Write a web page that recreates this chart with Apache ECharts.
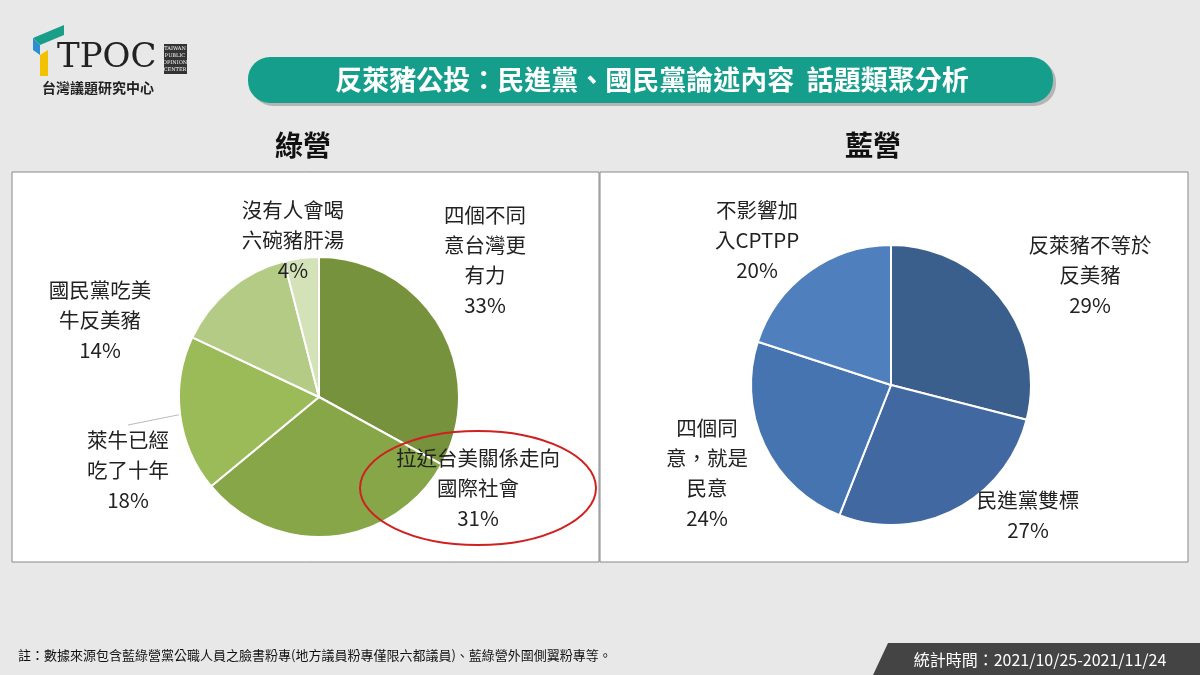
<!DOCTYPE html>
<html><head><meta charset="utf-8">
<script src="https://cdn.jsdelivr.net/npm/echarts@6/dist/echarts.min.js"></script>
<style>html,body{margin:0;background:#e8e8e8}#c{width:1200px;height:675px}</style>
</head><body><div id="c"></div>
<script>
const greenNames=['四個不同\n意台灣更\n有力','拉近台美關係走向\n國際社會','萊牛已經\n吃了十年','國民黨吃美\n牛反美豬','沒有人會喝\n六碗豬肝湯'];
const greenValues=[33,31,18,14,4];
const greenColors=['#77923c','#87a648','#9bbb59','#b4cb86','#d4e2b8'];
const blueNames=['反萊豬不等於\n反美豬','民進黨雙標','四個同\n意，就是\n民意','不影響加\n入CPTPP'];
const blueValues=[29,27,24,20];
const blueColors=['#3b5f8c','#4168a0','#4674b0','#4f80bd'];
// label anchor positions (layout only)
const greenLabelPos=[[485,260],[478,488],[128,470],[100,320],[293,240]];
const blueLabelPos=[[1090,275],[1028,515],[707,473],[757,240]];
const font='"Noto Sans CJK TC"';
const chart=echarts.init(document.getElementById('c'));
function mk(names,vals,cols,lineIdx){return names.map((n,i)=>({name:n,value:vals[i],itemStyle:{color:cols[i]},labelLine:{show:lineIdx.indexOf(i)>=0}}));}
const lbl={show:true,formatter:'{b}\n{c}%',color:'#222',fontSize:20.5,lineHeight:30,fontFamily:font,align:'center',position:'outside'};
function lay(pos){return p=>({x:pos[p.dataIndex][0],y:pos[p.dataIndex][1],align:'center',verticalAlign:'middle'});}
chart.setOption({
backgroundColor:'#e8e8e8',
graphic:[
 {type:'rect',shape:{x:12,y:172,width:587,height:390},style:{fill:'#fff',stroke:'#888',lineWidth:1},z:-10},
 {type:'rect',shape:{x:600,y:172,width:588,height:390},style:{fill:'#fff',stroke:'#888',lineWidth:1},z:-10},
 {type:'rect',shape:{x:251,y:60,width:805,height:46,r:22},style:{fill:'#b5b5b5'},z:-5},
 {type:'rect',shape:{x:248,y:57,width:805,height:46,r:22},style:{fill:'#169e8c'},z:-4},
 {type:'text',x:652,y:80,style:{text:'反萊豬公投：民進黨、國民黨論述內容  話題類聚分析',fill:'#fff',font:'bold 27px '+font,align:'center',verticalAlign:'middle'}},
 {type:'text',x:303,y:145,style:{text:'綠營',fill:'#111',font:'bold 28px '+font,align:'center',verticalAlign:'middle'}},
 {type:'text',x:873,y:145,style:{text:'藍營',fill:'#111',font:'bold 28px '+font,align:'center',verticalAlign:'middle'}},
 {type:'polygon',shape:{points:[[33,38],[64,25],[64,35],[40,45]]},style:{fill:'#1a9e8a'}},
 {type:'polygon',shape:{points:[[33,38],[40,45],[40,55],[33,50]]},style:{fill:'#2b8fd0'}},
 {type:'polygon',shape:{points:[[40,55],[48,50],[48,76],[40,76]]},style:{fill:'#f2c200'}},
 {type:'text',x:57,y:58,style:{text:'TPOC',fill:'#222',font:'34px "DejaVu Serif"',verticalAlign:'middle'}},
 {type:'rect',shape:{x:164,y:44,width:23,height:30},style:{fill:'#333'}},
 {type:'text',x:175,y:59,style:{text:'TAIWAN\nPUBLIC\nOPINION\nCENTER',fill:'#fff',font:'5px "DejaVu Serif"',align:'center',verticalAlign:'middle',lineHeight:7}},
 {type:'text',x:42,y:88,style:{text:'台灣議題研究中心',fill:'#222',font:'bold 14px '+font,verticalAlign:'middle'}},
 {type:'ellipse',shape:{cx:478,cy:488,rx:118,ry:57},style:{fill:'none',stroke:'#d02020',lineWidth:2},z:20},
 {type:'text',x:18,y:655,style:{text:'註：數據來源包含藍綠營黨公職人員之臉書粉專(地方議員粉專僅限六都議員)、藍綠營外圍側翼粉專等。',fill:'#111',font:'13px '+font,verticalAlign:'middle'}},
 {type:'polygon',shape:{points:[[888,643],[1200,643],[1200,675],[873,675]]},style:{fill:'#444'}},
 {type:'text',x:1040,y:660,style:{text:'統計時間：2021/10/25-2021/11/24',fill:'#fff',font:'16px '+font,align:'center',verticalAlign:'middle'}}
],
series:[
 {type:'pie',center:[319,397],radius:[0,140],startAngle:90,clockwise:true,
  itemStyle:{borderColor:'#fff',borderWidth:2},label:lbl,labelLayout:lay(greenLabelPos),
  labelLine:{length:10,length2:0,lineStyle:{color:'#bbb'}},
  data:mk(greenNames,greenValues,greenColors,[2,4])},
 {type:'pie',center:[891,385],radius:[0,140],startAngle:90,clockwise:true,
  itemStyle:{borderColor:'#fff',borderWidth:2},label:lbl,labelLayout:lay(blueLabelPos),
  labelLine:{length:10,length2:0,lineStyle:{color:'#bbb'}},
  data:mk(blueNames,blueValues,blueColors,[])}
]});
</script></body></html>
